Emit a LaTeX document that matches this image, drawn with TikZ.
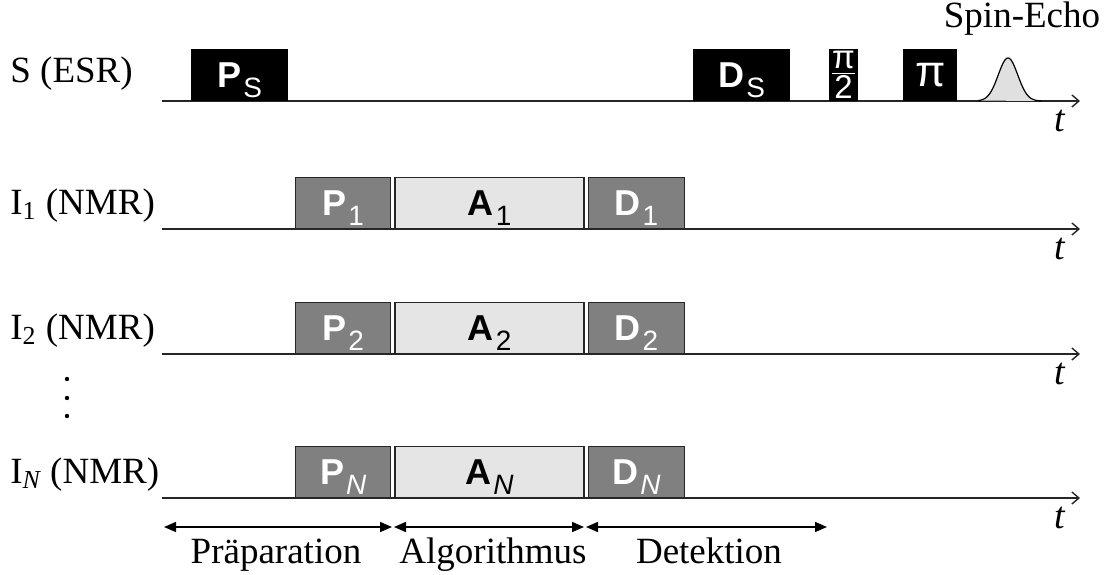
\documentclass[tikz,border=0pt]{standalone}
\usepackage{fontspec}
\setmainfont{Liberation Serif}
\setsansfont{Liberation Sans}
\usetikzlibrary{arrows.meta,positioning}

% lowered index inside the pulse blocks
\newcommand{\lowidx}[1]{\hspace{1pt}\raisebox{-5pt}[0pt][0pt]{\mdseries\fontsize{14}{14}\selectfont#1}}

\begin{document}
\begin{tikzpicture}[x=0.5pt,y=-0.5pt,
  row/.style={anchor=base west,inner sep=0pt,font=\fontsize{18.5}{20}\selectfont},
  tlabel/.style={inner sep=0pt,font=\fontsize{19}{20}\selectfont\itshape},
  axis/.style={draw=black!85,line width=0.7pt,-{Straight Barb[length=3.5pt,width=6pt]}},
  block/.style={draw=black!85,line width=0.7pt,anchor=south west,inner sep=0pt,
    minimum height=25.5pt,font=\sffamily\bfseries\fontsize{18}{18}\selectfont},
  spinpulse/.style={block,fill=black,draw=black,text=white},
  prep/.style={block,fill=black!50,text=white},
  alg/.style={block,fill=black!10,text=black},
  span/.style={line width=0.8pt,{Triangle[length=6pt,width=5pt]}-{Triangle[length=6pt,width=5pt]},
    shorten <=0.5pt,shorten >=0.5pt},
  phase/.style={anchor=base,inner sep=0pt,font=\fontsize{18.5}{20}\selectfont}]
\useasboundingbox (0,0) rectangle (1110,574);

% electron spin
\node[row] (s) at (10,82) {S (ESR)};
\coordinate (s0) at (162,101);
\coordinate (s1) at (1080,101);
\draw[axis] (s0) -- (s1);
\node[spinpulse,minimum width=48pt] (ps) at (191,101) {P\lowidx{S}};
\node[spinpulse,minimum width=48pt] (ds) at (693,101) {D\lowidx{S}};
\node[spinpulse,minimum width=13.5pt,font=\sffamily\fontsize{16.5}{16.5}\selectfont] (half) at (829,101) {$\textstyle\frac{\mbox{π}}{\mbox{2}}$};
\node[spinpulse,minimum width=26.5pt,font=\sffamily\fontsize{22}{22}\selectfont] (full) at (903,101) {\raisebox{-2pt}{π}};
\draw[line width=0.6pt,fill=black!12] plot[domain=-30:34,samples=80] ({1008+\x},{101-43*exp(-((\x)*(\x))/190)});
\node[anchor=base,inner sep=0pt,font=\fontsize{18.5}{20}\selectfont] (echo) at (1022,27) {Spin-Echo};
\node[tlabel] (ts) at (1060,121) {t};

% nuclear spins
\foreach \y/\k/\idx in {229/1/1,354/2/2,498/N/{\itshape N}}{
  \node[row] (i\k) at (10,\y-15) {I\textsubscript{\idx} (NMR)};
  \coordinate (l\k) at (162,\y);
  \coordinate (r\k) at (1080,\y);
  \draw[axis] (l\k) -- (r\k);
  \node[prep,minimum width=47.5pt] (p\k) at (295,\y) {P\lowidx{\idx}};
  \node[alg,right=1.5pt of p\k,minimum width=94.5pt] (a\k) {A\lowidx{\idx}};
  \node[prep,right=1.5pt of a\k,minimum width=48pt] (d\k) {D\lowidx{\idx}};
  \node[tlabel] (t\k) at (1060,\y+20) {t};
}
\foreach \d in {379,398,416} \fill (67,\d) circle (1.1pt);

% phases
\coordinate (m0) at (163,527);
\coordinate (m1) at (393,527);
\coordinate (m2) at (585,527);
\coordinate (m3) at (828,527);
\draw[span] (m0) -- (m1);
\draw[span] (m1) -- (m2);
\draw[span] (m2) -- (m3);
\node[phase] (prepl) at (276,563) {Präparation};
\node[phase] (algl) at (493,563) {Algorithmus};
\node[phase] (detl) at (709,563) {Detektion};
\end{tikzpicture}
\end{document}
